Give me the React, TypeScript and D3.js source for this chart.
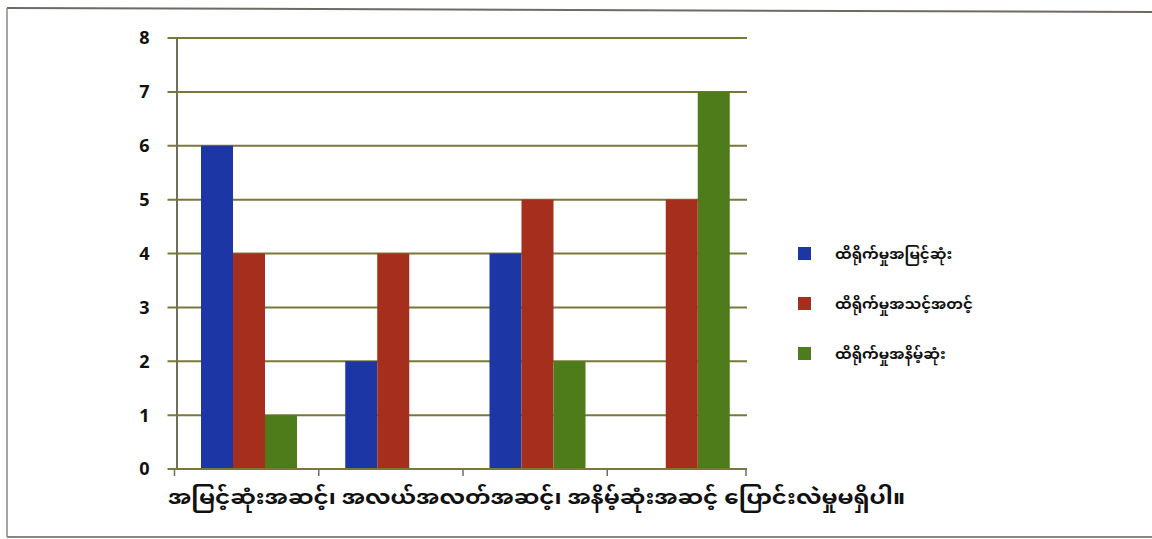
import React from "react";
import * as d3 from "d3";

const categories = ["အမြင့်ဆုံးအဆင့်", "အလယ်အလတ်အဆင့်", "အနိမ့်ဆုံးအဆင့်", "ပြောင်းလဲမှုမရှိပါ"];
const seriesNames = ["ထိရိုက်မှုအမြင့်ဆုံး", "ထိရိုက်မှုအသင့်အတင့်", "ထိရိုက်မှုအနိမ့်ဆုံး"];
const seriesA = [6, 2, 4, 0];
const seriesB = [4, 4, 5, 5];
const seriesC = [1, 0, 2, 7];
const yTicks = [0, 1, 2, 3, 4, 5, 6, 7, 8];
const axisTitle = "အမြင့်ဆုံးအဆင့်၊ အလယ်အလတ်အဆင့်၊ အနိမ့်ဆုံးအဆင့် ပြောင်းလဲမှုမရှိပါ။";

const colors = ["#1c36a6", "#a62e1c", "#4e7c1a"];
const gridColor = "#7a7838";
const mmFont = "'Noto Sans Myanmar', 'Padauk', 'Myanmar Text', 'Noto Sans', sans-serif";

export default function App() {
  const W = 1152, H = 539;
  const left = 174.5, right = 747, top = 38, bottom = 469;
  const x = d3.scaleBand<string>().domain(categories).range([left, left + 577]);
  const y = d3.scaleLinear().domain([0, 8]).range([bottom, top]);
  const inner = d3.scaleBand<number>().domain([0, 1, 2]).range([26.5, 26.5 + 96]);
  const series = [seriesA, seriesB, seriesC];

  return (
    <svg width={W} height={H} style={{ position: "absolute", left: 0, top: 0, background: "#fff" }}>
      <rect x={0} y={0} width={W} height={H} fill="#fff" />
      {/* frame */}
      <line x1={7} y1={8} x2={W} y2={12} stroke="#6e6a66" strokeWidth={2} />
      <line x1={7} y1={8} x2={7} y2={537} stroke="#8a8682" strokeWidth={1.5} />
      <line x1={7} y1={537} x2={W} y2={537} stroke="#8a8682" strokeWidth={2} />
      {/* gridlines */}
      {yTicks.map((t) => (
        <g key={t}>
          {t > 0 && (
            <line x1={left - 7} x2={right} y1={y(t)} y2={y(t)} stroke={gridColor} strokeWidth={2} />
          )}
          <text x={left - 25} y={y(t)} dy="0.36em" textAnchor="end" fontFamily="'Open Sans', 'Liberation Sans', sans-serif"
            fontWeight={700} fontSize={18} fill="#111">{t}</text>
        </g>
      ))}
      {/* bars */}
      {categories.map((c, i) => (
        <g key={c}>
          {series.map((s, k) => s[i] > 0 && (
            <rect key={k} x={(x(c) as number) + (inner(k) as number)} y={y(s[i])}
              width={inner.bandwidth()} height={y(0) - y(s[i])} fill={colors[k]} />
          ))}
        </g>
      ))}
      {/* axes */}
      <line x1={left + 2.5} x2={left + 2.5} y1={top} y2={bottom} stroke="#6f6f5a" strokeWidth={2} />
      <line x1={left - 7} x2={right} y1={bottom} y2={bottom} stroke={gridColor} strokeWidth={2} />
      {categories.map((c) => (
        <line key={c} x1={x(c) as number} x2={x(c) as number} y1={bottom} y2={bottom + 7} stroke="#6f6f5a" strokeWidth={1.5} />
      ))}
      <line x1={right - 1} x2={right - 1} y1={bottom} y2={bottom + 7} stroke="#6f6f5a" strokeWidth={1.5} />
      <text x={168} y={504} fontFamily={mmFont} fontSize={19} fontWeight={700} fill="#111"
        textLength={737} lengthAdjust="spacingAndGlyphs">{axisTitle}</text>
      {/* legend */}
      {seriesNames.map((n, k) => (
        <g key={n}>
          <rect x={798} y={247 + k * 50} width={13} height={13} fill={colors[k]} />
          <text x={835} y={254 + k * 50} dy="0.36em" fontFamily={mmFont} fontSize={15} fontWeight={700} fill="#111">{n}</text>
        </g>
      ))}
    </svg>
  );
}
